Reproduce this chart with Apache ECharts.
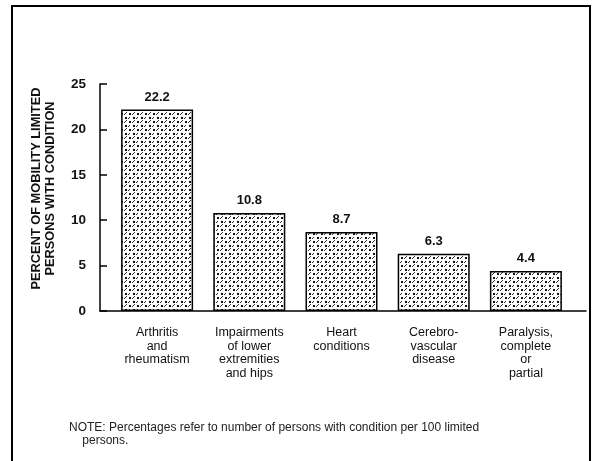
<!DOCTYPE html>
<html>
<head>
<meta charset="utf-8">
<script src="https://cdn.jsdelivr.net/npm/echarts@6/dist/echarts.min.js"></script>
<style>
  html, body { margin: 0; padding: 0; background: #fff; }
  #chart { width: 592px; height: 461px; }
</style>
</head>
<body>
<div id="chart"></div>
<script>
  const categories = [
    'Arthritis\nand\nrheumatism',
    'Impairments\nof lower\nextremities\nand hips',
    'Heart\nconditions',
    'Cerebro-\nvascular\ndisease',
    'Paralysis,\ncomplete\nor\npartial'
  ];
  const percents = [22.2, 10.8, 8.7, 6.3, 4.4];
  const yTicks = [0, 5, 10, 15, 20, 25];

  // dotted crosshatch fill like the printed figure
  function makeHatch() {
    const c = document.createElement('canvas');
    c.width = 8; c.height = 8;
    const g = c.getContext('2d');
    g.fillStyle = '#fff';
    g.fillRect(0, 0, 8, 8);
    g.fillStyle = '#111';
    g.fillRect(1, 1, 2, 2);
    g.fillRect(5, 5, 2, 2);
    g.strokeStyle = '#333';
    g.lineWidth = 1;
    g.beginPath();
    g.moveTo(4, 3); g.lineTo(7, 0);
    g.moveTo(0, 7); g.lineTo(2, 5);
    g.stroke();
    return c;
  }

  const myChart = echarts.init(document.getElementById('chart'));
  const hatch = makeHatch();

  const option = {
    backgroundColor: '#fff',
    animation: false,
    title: {
      text: 'NOTE: Percentages refer to number of persons with condition per 100 limited\n    persons.',
      left: 64,
      top: 416,
      textStyle: {
        fontFamily: 'Liberation Sans',
        fontSize: 12,
        fontWeight: 'normal',
        color: '#222',
        lineHeight: 13
      }
    },
    graphic: [
      {
        type: 'rect',
        shape: { x: 12, y: 6, width: 578, height: 470 },
        style: { fill: 'none', stroke: '#000', lineWidth: 2 }
      }
    ],
    grid: [
      { left: 111, right: 20, top: 84, bottom: 150 },
      { left: 100, right: 6, top: 84, bottom: 150 }
    ],
    xAxis: [
      {
        type: 'category',
        gridIndex: 0,
        data: categories,
        axisLine: { show: false },
        axisTick: { show: false },
        axisLabel: {
          interval: 0,
          margin: 15,
          fontFamily: 'Liberation Sans',
          fontSize: 12.5,
          lineHeight: 13.5,
          color: '#111'
        }
      },
      {
        type: 'value',
        gridIndex: 1,
        min: 0,
        max: 1,
        axisLine: { show: true, lineStyle: { color: '#000', width: 1.5 } },
        axisTick: { show: false },
        axisLabel: { show: false },
        splitLine: { show: false }
      }
    ],
    yAxis: [
      {
        type: 'value',
        gridIndex: 0,
        min: yTicks[0],
        max: yTicks[yTicks.length - 1],
        interval: 5,
        offset: 11,
        name: 'PERCENT OF MOBILITY LIMITED\nPERSONS WITH CONDITION',
        nameLocation: 'middle',
        nameGap: 43,
        nameTextStyle: {
          fontFamily: 'Liberation Sans',
          fontSize: 12.8,
          fontWeight: 'bold',
          lineHeight: 14,
          color: '#111',
          padding: [0, 0, 0, 18]
        },
        axisLine: { show: true, lineStyle: { color: '#000', width: 1.5 } },
        axisTick: { show: true, inside: true, length: 7, lineStyle: { color: '#000', width: 1.5 } },
        axisLabel: {
          margin: 14,
          fontFamily: 'Liberation Sans',
          fontSize: 13.5,
          fontWeight: 'bold',
          color: '#111'
        },
        splitLine: { show: false }
      },
      {
        type: 'value',
        gridIndex: 1,
        show: false
      }
    ],
    series: [
      {
        type: 'bar',
        xAxisIndex: 0,
        yAxisIndex: 0,
        data: percents,
        barWidth: 72,
        itemStyle: {
          color: { image: hatch, repeat: 'repeat' },
          borderColor: '#000',
          borderWidth: 1.5
        },
        label: {
          show: true,
          position: 'top',
          distance: 6,
          fontFamily: 'Liberation Sans',
          fontSize: 13,
          fontWeight: 'bold',
          color: '#111'
        }
      }
    ]
  };

  myChart.setOption(option);
</script>
</body>
</html>
